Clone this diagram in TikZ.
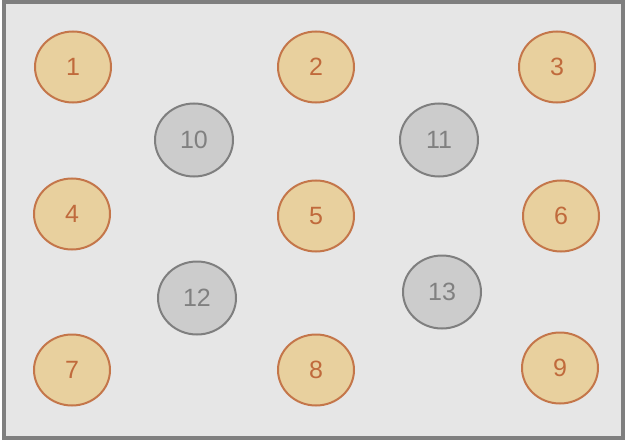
\documentclass[tikz,border=0pt]{standalone}
\usepackage{fontspec}
\setmainfont{Liberation Sans}
\definecolor{bgc}{HTML}{E6E6E6}
\definecolor{framec}{HTML}{7F7F7F}
\definecolor{ofill}{HTML}{E8D09E}
\definecolor{odraw}{HTML}{C4764A}
\definecolor{otext}{HTML}{C06A3C}
\definecolor{gfill}{HTML}{CCCCCC}
\definecolor{gdraw}{HTML}{7F7F7F}
\definecolor{gtext}{HTML}{808080}
\begin{document}
\begin{tikzpicture}[x=1pt,y=-1pt,
  onode/.style={ellipse,draw=odraw,fill=ofill,line width=2pt,minimum width=76pt,minimum height=71pt,inner sep=0pt,text=otext,font=\fontsize{25}{25}\selectfont},
  gnode/.style={ellipse,draw=gdraw,fill=gfill,line width=2pt,minimum width=78pt,minimum height=73pt,inner sep=0pt,text=gtext,font=\fontsize{25}{25}\selectfont}]
\usetikzlibrary{shapes.geometric}
\useasboundingbox (0,0) rectangle (626,441);
\fill[white] (0,0) rectangle (626,441);
\draw[framec,fill=bgc,line width=4pt] (4,2) rectangle (623,438);
\node[onode] (n1) at (73,67) {1};
\node[onode] (n2) at (316,67) {2};
\node[onode] (n3) at (557,67) {3};
\node[gnode] (n10) at (194,140) {10};
\node[gnode] (n11) at (439,140) {11};
\node[onode] (n4) at (72,214) {4};
\node[onode] (n5) at (316,216) {5};
\node[onode] (n6) at (561,216) {6};
\node[gnode] (n12) at (197,298) {12};
\node[gnode] (n13) at (442,292) {13};
\node[onode] (n7) at (72,370) {7};
\node[onode] (n8) at (316,370) {8};
\node[onode] (n9) at (560,368) {9};
\end{tikzpicture}
\end{document}
